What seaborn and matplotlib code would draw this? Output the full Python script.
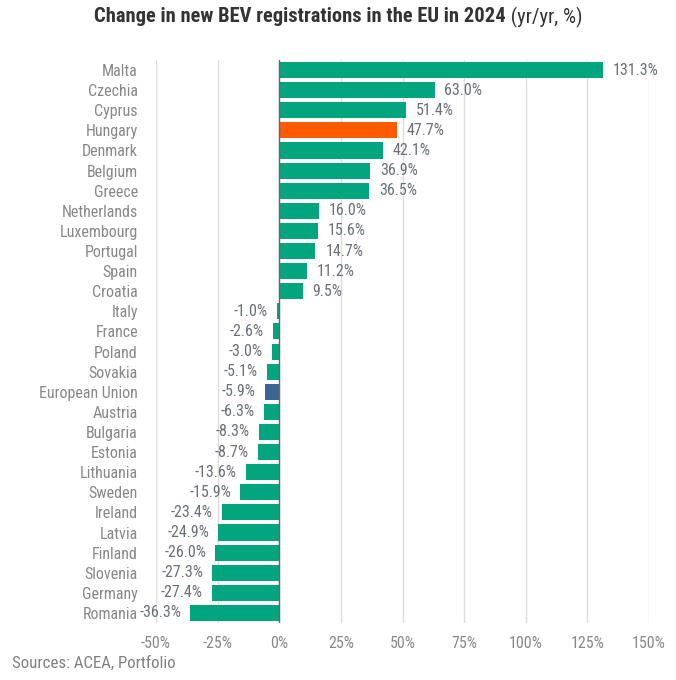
import matplotlib
matplotlib.use("Agg")
import matplotlib.pyplot as plt
import seaborn as sns
import pandas as pd

countries = ["Malta", "Czechia", "Cyprus", "Hungary", "Denmark", "Belgium", "Greece",
             "Netherlands", "Luxembourg", "Portugal", "Spain", "Croatia", "Italy", "France",
             "Poland", "Sovakia", "European Union", "Austria", "Bulgaria", "Estonia",
             "Lithuania", "Sweden", "Ireland", "Latvia", "Finland", "Slovenia", "Germany",
             "Romania"]
values = [131.3, 63.0, 51.4, 47.7, 42.1, 36.9, 36.5, 16.0, 15.6, 14.7, 11.2, 9.5,
          -1.0, -2.6, -3.0, -5.1, -5.9, -6.3, -8.3, -8.7, -13.6, -15.9, -23.4, -24.9,
          -26.0, -27.3, -27.4, -36.3]
xticks = [-50, -25, 0, 25, 50, 75, 100, 125, 150]

GREEN = "#03A57E"
ORANGE = "#FF5A00"
BLUE = "#3D6491"
special = {"Hungary": ORANGE, "European Union": BLUE}
palette = {c: special.get(c, GREEN) for c in countries}

df = pd.DataFrame({"country": countries, "value": values})

sns.set_style("white")
plt.rcParams["font.family"] = ["Roboto Condensed", "DejaVu Sans"]

fig = plt.figure(figsize=(6.76, 6.80), dpi=100)
n = len(countries)
ax = fig.add_axes([156 / 676, 1 - 623 / 680, (649 - 156) / 676, (623 - 60) / 680])
sns.barplot(data=df, x="value", y="country", hue="country", palette=palette,
            order=countries, legend=False, width=0.8, ax=ax, saturation=1, linewidth=0)

ax.set_xlim(-50, 150)
ax.set_ylim(n - 0.5, -0.5)
ax.set_xticks(xticks)
ax.set_xticklabels([f"{t}%" for t in xticks])
ax.grid(axis="x", color="#dcdcdc", linewidth=1)
ax.set_axisbelow(True)
for s in ax.spines.values():
    s.set_visible(False)
ax.axvline(0, color="#666666", linewidth=1, zorder=3)
ax.set_xlabel("")
ax.set_ylabel("")
ax.tick_params(axis="both", length=0, colors="#888888", labelsize=11.5)
ax.tick_params(axis="y", pad=13)
ax.tick_params(axis="x", pad=9)

LABEL = "#6b6f78"
for i, v in enumerate(values):
    if v >= 0:
        ax.text(v + 4, i, f"{v:.1f}%", va="center", ha="left", fontsize=11.5, color=LABEL)
    else:
        ax.text(v - 3.5, i, f"{v:.1f}%", va="center", ha="right", fontsize=11.5, color=LABEL)

t1 = fig.text(0, 1 - 17 / 680, "Change in new BEV registrations in the EU in 2024",
              fontsize=14.8, fontweight="bold", color="#333333", va="center", ha="left")
t2 = fig.text(0, 1 - 17 / 680, " (yr/yr, %)", fontsize=14.8, color="#333333",
              va="center", ha="left")
fig.canvas.draw()
r = fig.canvas.get_renderer()
w1 = t1.get_window_extent(r).width
w2 = t2.get_window_extent(r).width
W = fig.bbox.width
start = (W - (w1 + w2)) / 2
t1.set_x(start / W)
t2.set_x((start + w1) / W)

fig.text(12 / 676, 1 - 663 / 680, "Sources: ACEA, Portfolio", fontsize=12.2,
         color="#808080", va="center", ha="left")

fig.savefig("out.png", dpi=100, facecolor="white")
